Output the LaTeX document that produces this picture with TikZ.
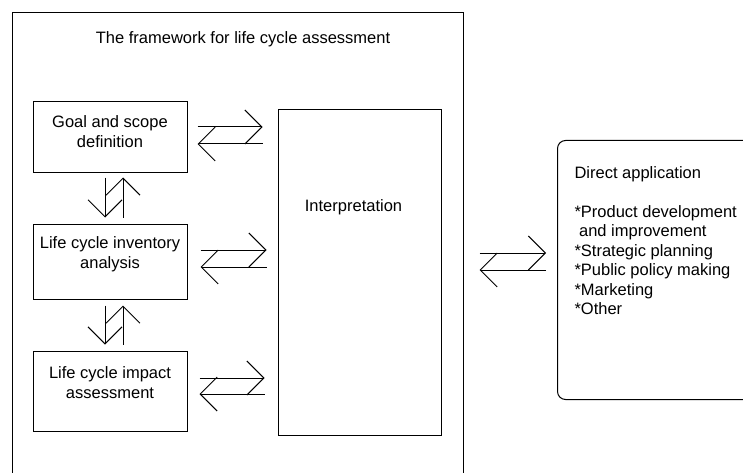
\documentclass[tikz,border=0pt]{standalone}
\usepackage{fontspec}
\setmainfont{Liberation Sans}
\usetikzlibrary{arrows.meta,positioning,calc}

\begin{document}
\begin{tikzpicture}[
    x=1pt, y=-1pt,
    line width=1pt,
    font=\fontsize{16.5}{20}\selectfont,
    stage/.style={rectangle, draw, minimum width=154pt, inner sep=0pt},
    twoway/.style={-{Straight Barb[length=17pt,width=34pt]}}
]
\useasboundingbox (0,0) rectangle (743,473);
\clip (0,0) rectangle (743,473);

% Framework
\node[rectangle, draw, inner sep=0pt, minimum width=451pt, minimum height=480pt, anchor=north west] (framework) at (12,12) {};
\node (title) at (243,39) {The framework for life cycle assessment};

% Stages
\node[stage, minimum height=70pt, label={[align=center, yshift=5pt]center:Goal and scope\\definition}] (goal) at (110,137) {};
\node[stage, minimum height=75pt, label={[align=center, yshift=7.5pt]center:Life cycle inventory\\analysis}] (inventory) at (110,261.5) {};
\node[stage, minimum height=80pt, label={[align=center, yshift=8pt]center:Life cycle impact\\assessment}] (impact) at (110,391) {};

% Interpretation
\node[rectangle, draw, inner sep=0pt, minimum width=163pt, minimum height=325pt, label={[xshift=-6pt, yshift=65.5pt]center:Interpretation}] (interp) at (359.5,272.5) {};

% Direct application
\node[rectangle, draw, rounded corners=8pt, inner sep=0pt, minimum width=240pt, minimum height=259pt, anchor=north west,
      label={[anchor=north west, align=left, inner sep=0pt, xshift=17pt, yshift=-26pt, font=\fontsize{16.5}{19.5}\selectfont]north west:Direct application\\[19.5pt]*Product development\\\ and improvement\\{}*Strategic planning\\{}*Public policy making\\{}*Marketing\\{}*Other}] (app) at (557,140) {};

% Stage <-> stage
\draw[twoway] ($(goal.south)+(-5,5)$) -- ($(inventory.north)+(-5,-6)$);
\draw[twoway] ($(inventory.north)+(13,-6)$) -- ($(goal.south)+(13,5)$);
\draw[twoway] ($(inventory.south)+(-5,6)$) -- ($(impact.north)+(-5,-6)$);
\draw[twoway] ($(impact.north)+(13,-6)$) -- ($(inventory.south)+(13,6)$);

% Stage <-> interpretation
\draw[twoway] ($(goal.east)+(10,-10)$) -- ($(goal.east -| interp.west)+(-15,-10)$);
\draw[twoway] ($(goal.east -| interp.west)+(-15,7)$) -- ($(goal.east)+(10,7)$);
\draw[twoway] ($(inventory.east)+(13,-11.5)$) -- ($(inventory.east -| interp.west)+(-11,-11.5)$);
\draw[twoway] ($(inventory.east -| interp.west)+(-11,5.5)$) -- ($(inventory.east)+(13,5.5)$);
\draw[twoway] ($(impact.east)+(12,-13)$) -- ($(impact.east -| interp.west)+(-13,-13)$);
\draw[twoway] ($(impact.east -| interp.west)+(-13,3)$) -- ($(impact.east)+(12,3)$);

% Interpretation <-> application
\draw[twoway] ($(interp.east)+(38,-19.5)$) -- ($(interp.east -| app.west)+(-11,-19.5)$);
\draw[twoway] ($(interp.east -| app.west)+(-11,-2.5)$) -- ($(interp.east)+(38,-2.5)$);

\end{tikzpicture}
\end{document}
